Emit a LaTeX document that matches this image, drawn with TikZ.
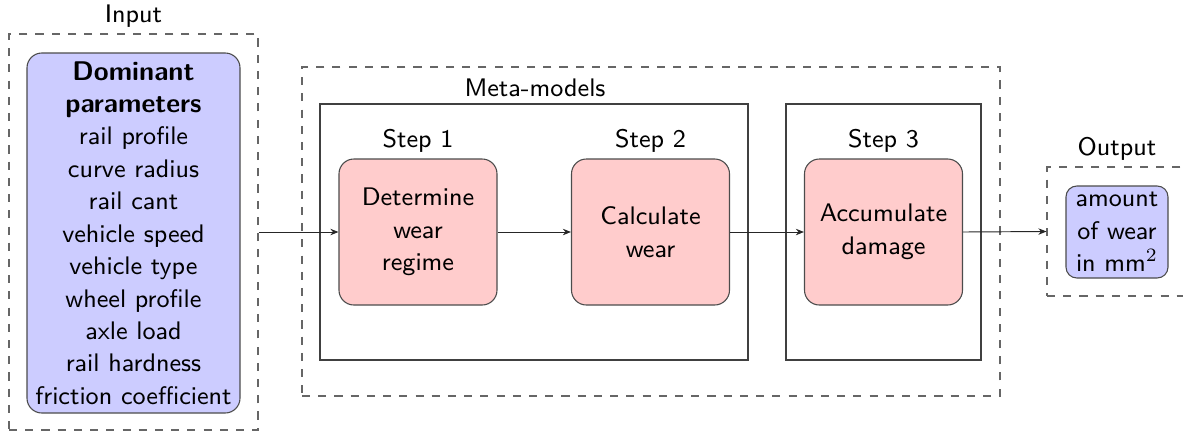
\documentclass[tikz,border=0pt]{standalone}
\usetikzlibrary{arrows.meta}
\begin{document}
\begin{tikzpicture}[x=0.37pt,y=-0.37pt, font=\sffamily\fontsize{9.4}{12}\selectfont,
  sz/.style 2 args={minimum width=#1*0.37pt, minimum height=#2*0.37pt},
  dashbox/.style={draw=black!60, dashed, rectangle, inner sep=0},
  solidbox/.style={draw=black!75, rectangle, inner sep=0},
  bluebox/.style={draw=black!70, fill=blue!20, rounded corners=5.5pt, align=center, inner sep=0},
  pinkbox/.style={draw=black!70, fill=red!20, rounded corners=5.5pt, align=center, inner sep=0},
  lab/.style={anchor=base, inner sep=0},
  flow/.style={-{Stealth[length=3pt,width=2.4pt]}, draw=black!85, line width=0.35pt}]
\useasboundingbox (0,0) rectangle (1183,434);
% input
\node[dashbox, sz={249}{396}] (inp) at (133.5,232) {};
\node[lab] (inlab) at (133.5,22) {Input};
\node[bluebox, sz={213}{360}] (dom) at (133.5,233) {{\fontsize{10}{12}\selectfont\bfseries Dominant}\\{\fontsize{10}{12}\selectfont\bfseries parameters}\\rail profile\\curve radius\\rail cant\\vehicle speed\\vehicle type\\wheel profile\\axle load\\rail hardness\\friction coefficient};
% meta-models
\node[dashbox, sz={698}{329}] (meta) at (651,231.5) {};
\node[lab] (metalab) at (535,96.5) {Meta-models};
\node[solidbox, sz={428}{256}] (b12) at (534,232) {};
\node[solidbox, sz={195}{256}] (b3) at (883.5,232) {};
\node[lab] (s1lab) at (418,147) {Step 1};
\node[lab] (s2lab) at (650.5,147) {Step 2};
\node[lab] (s3lab) at (883.5,147) {Step 3};
\node[pinkbox, sz={158}{146}] (s1) at (418,232) {Determine\\wear\\regime};
\node[pinkbox, sz={158}{146}] (s2) at (650.5,232) {Calculate\\wear};
\node[pinkbox, sz={158}{146}] (s3) at (883.5,232) {Accumulate\\damage};
% output
\node[dashbox, sz={140}{129}] (out) at (1117,231.5) {};
\node[lab] (outlab) at (1117,155) {Output};
\node[bluebox, sz={102}{92}, rounded corners=4pt] (res) at (1117,232) {amount\\of wear\\in mm$^2$};
% connectors
\draw[flow] (inp.east) -- (s1.west);
\draw[flow] (s1.east) -- (s2.west);
\draw[flow] (s2.east) -- (s3.west);
\draw[flow] (s3.east) -- (out.west);
\end{tikzpicture}
\end{document}
